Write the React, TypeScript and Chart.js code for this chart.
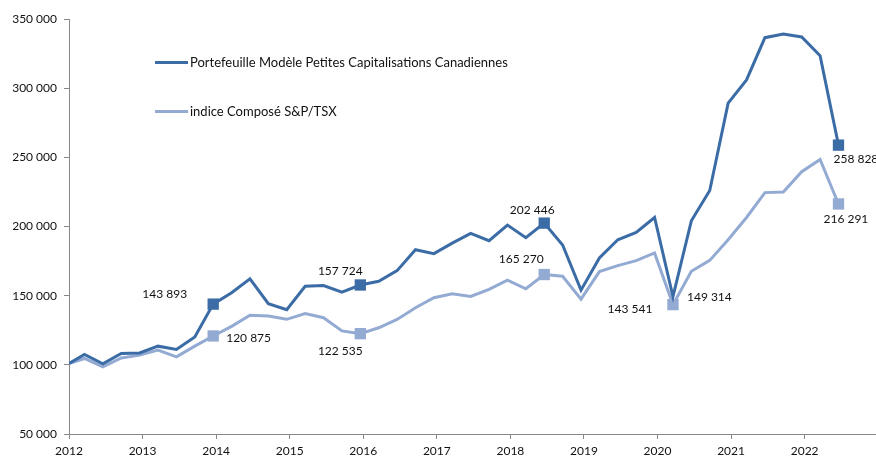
import React, { useEffect, useRef } from "react";
import { Chart, registerables } from "chart.js";

Chart.register(...registerables);

// Decimal-year positions of the quarterly observations
const dates = [
  2012.0, 2012.21, 2012.46, 2012.71, 2012.96, 2013.21, 2013.46, 2013.71, 2013.96,
  2014.21, 2014.46, 2014.71, 2014.96, 2015.21, 2015.46, 2015.71, 2015.96,
  2016.21, 2016.46, 2016.71, 2016.96, 2017.21, 2017.46, 2017.71, 2017.96,
  2018.21, 2018.46, 2018.71, 2018.96, 2019.21, 2019.46, 2019.71, 2019.96,
  2020.21, 2020.46, 2020.71, 2020.96, 2021.21, 2021.46, 2021.71, 2021.96,
  2022.21, 2022.46,
];

const portfolioLabel = "Portefeuille Modèle Petites Capitalisations Canadiennes";
const indexLabel = "indice Composé S&P/TSX";

const portfolioValues = [
  101000, 107500, 100700, 108200, 108600, 113500, 111100, 120100, 143893,
  152100, 162200, 144200, 139900, 156800, 157300, 152500, 157724,
  160400, 168100, 183200, 180400, 188000, 195000, 189700, 201000,
  191900, 202446, 186600, 154000, 177300, 190400, 195700, 206500,
  149314, 204100, 226000, 289200, 306000, 336500, 339100, 337000,
  323500, 258828,
];

const indexValues = [
  101000, 104600, 98600, 105000, 107000, 110600, 105800, 113500, 120875,
  127800, 135800, 135300, 132900, 137000, 134100, 124500, 122535,
  126800, 132800, 141300, 148500, 151400, 149400, 154500, 161200,
  155000, 165270, 164000, 147500, 167400, 171700, 175300, 180900,
  143541, 167600, 175500, 190400, 206500, 224500, 225000, 239600,
  248500, 216291,
];

// Indices of highlighted (labelled) points
const markerIndices = [8, 16, 26, 33, 42];

const yTicks = [50000, 100000, 150000, 200000, 250000, 300000, 350000];
const xTicks = [2012, 2013, 2014, 2015, 2016, 2017, 2018, 2019, 2020, 2021, 2022];

const DARK = "#3B6CA6";
const LIGHT = "#93AAD3";
const AXIS = "#888888";
const FONT = "Lato, 'Liberation Sans', sans-serif";

const fmt = (n: number) =>
  Math.round(n).toString().replace(/\B(?=(\d{3})+(?!\d))/g, " ");

// label placement (style only): dataset, point index, offsets, alignment
const labelPlacements = [
  { ds: 0, i: 8, dx: -26, dy: -10, align: "right" },
  { ds: 1, i: 8, dx: 13, dy: 2, align: "left" },
  { ds: 0, i: 16, dx: -20, dy: -14, align: "center" },
  { ds: 1, i: 16, dx: -20, dy: 17, align: "center" },
  { ds: 0, i: 26, dx: -12, dy: -13, align: "center" },
  { ds: 1, i: 26, dx: -23, dy: -15, align: "center" },
  { ds: 1, i: 33, dx: -43, dy: 5, align: "center" },
  { ds: 0, i: 33, dx: 14, dy: 1, align: "left" },
  { ds: 0, i: 42, dx: -5, dy: 14, align: "left" },
  { ds: 1, i: 42, dx: -15, dy: 15, align: "left" },
];

const dataLabelPlugin = {
  id: "dataLabels",
  afterDatasetsDraw(chart: any) {
    const ctx = chart.ctx;
    ctx.save();
    ctx.font = `12px ${FONT}`;
    ctx.fillStyle = "#111";
    ctx.textBaseline = "middle";
    for (const p of labelPlacements) {
      const el = chart.getDatasetMeta(p.ds).data[p.i];
      const v = chart.data.datasets[p.ds].data[p.i].y;
      ctx.textAlign = p.align;
      ctx.fillText(fmt(v), el.x + p.dx, el.y + p.dy);
    }
    ctx.restore();
  },
};

const legendPlugin = {
  id: "insideLegend",
  afterDraw(chart: any) {
    const ctx = chart.ctx;
    ctx.save();
    const rows = [
      { y: 62.5, ds: 0 },
      { y: 111.5, ds: 1 },
    ];
    for (const r of rows) {
      const d = chart.data.datasets[r.ds];
      ctx.strokeStyle = d.borderColor;
      ctx.lineWidth = 3;
      ctx.beginPath();
      ctx.moveTo(155, r.y);
      ctx.lineTo(188, r.y);
      ctx.stroke();
      ctx.font = `13px ${FONT}`;
      ctx.fillStyle = "#111";
      ctx.textAlign = "left";
      ctx.textBaseline = "middle";
      ctx.fillText(d.label, 190, r.y);
    }
    ctx.restore();
  },
};

export default function App() {
  const ref = useRef<HTMLCanvasElement | null>(null);

  useEffect(() => {
    if (!ref.current) return;
    const radii = (hideAt: number[]) =>
      dates.map((_, i) =>
        markerIndices.includes(i) && !hideAt.includes(i) ? 8 : 0
      );
    const chart = new Chart(ref.current, {
      type: "line",
      data: {
        datasets: [
          {
            label: portfolioLabel,
            data: dates.map((x, i) => ({ x, y: portfolioValues[i] })),
            borderColor: DARK,
            backgroundColor: DARK,
            borderWidth: 3,
            pointStyle: "rect",
            pointRadius: radii([33]),
            pointBorderWidth: 0,
            tension: 0,
          },
          {
            label: indexLabel,
            data: dates.map((x, i) => ({ x, y: indexValues[i] })),
            borderColor: LIGHT,
            backgroundColor: LIGHT,
            borderWidth: 3,
            pointStyle: "rect",
            pointRadius: radii([]),
            pointBorderWidth: 0,
            tension: 0,
          },
        ],
      },
      options: {
        responsive: false,
        animation: false,
        layout: {
          autoPadding: false,
          padding: { top: 19, right: 0, left: 0, bottom: 0 },
        },
        plugins: {
          legend: { display: false },
          tooltip: { enabled: false },
        },
        scales: {
          x: {
            type: "linear",
            min: 2012,
            max: 2022.97,
            afterFit: (s: any) => {
              s.height = 36;
              s.paddingLeft = 0;
              s.paddingRight = 0;
            },
            afterBuildTicks: (s: any) => {
              s.ticks = xTicks.map((v) => ({ value: v }));
            },
            ticks: {
              includeBounds: false,
              stepSize: 1,
              padding: 5,
              color: "#111",
              font: { family: FONT, size: 12 },
              callback: (v: any) => String(v),
              maxRotation: 0,
              autoSkip: false,
            },
            grid: {
              display: true,
              drawOnChartArea: false,
              drawTicks: true,
              tickLength: 5,
              color: AXIS,
            },
            border: { display: true, color: AXIS, width: 1 },
          },
          y: {
            min: 50000,
            max: 350000,
            afterFit: (s: any) => {
              s.width = 69;
            },
            afterBuildTicks: (s: any) => {
              s.ticks = yTicks.map((v) => ({ value: v }));
            },
            ticks: {
              padding: 7,
              color: "#111",
              font: { family: FONT, size: 12 },
              callback: (v: any) => fmt(Number(v)),
            },
            grid: {
              display: true,
              drawOnChartArea: false,
              drawTicks: true,
              tickLength: 5,
              color: AXIS,
            },
            border: { display: true, color: AXIS, width: 1 },
          },
        },
      },
      plugins: [dataLabelPlugin, legendPlugin],
    } as any);
    return () => chart.destroy();
  }, []);

  return (
    <div
      style={{
        position: "fixed",
        left: 0,
        top: 0,
        width: 876,
        height: 456,
        overflow: "hidden",
        background: "#fff",
      }}
    >
      <canvas
        ref={ref}
        width={876}
        height={470}
        style={{ display: "block", width: 876, height: 470 }}
      />
    </div>
  );
}
